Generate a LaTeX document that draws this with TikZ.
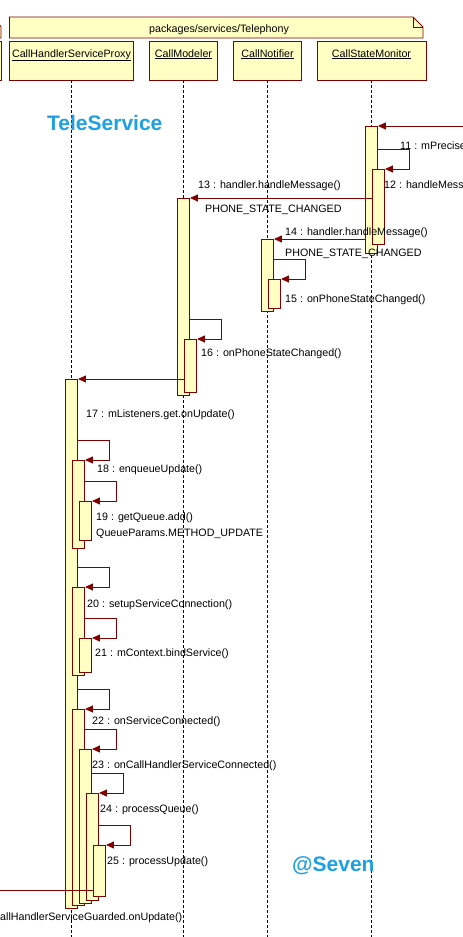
\documentclass[tikz,border=0pt]{standalone}
\usepackage{fontspec}
\setmainfont{Liberation Sans}
\usetikzlibrary{arrows.meta, positioning, calc}
\definecolor{umlline}{RGB}{128,0,0}
\definecolor{umlfill}{RGB}{255,255,196}
\definecolor{tagblue}{RGB}{30,160,225}

\begin{document}
\begin{tikzpicture}[x=1pt, y=-1pt,
        head/.style={draw=umlline, fill=umlfill, line width=0.9pt, rectangle, minimum height=39pt, inner sep=0pt},
        act/.style={draw=umlline, fill=umlfill, line width=0.9pt, rectangle, minimum width=12pt, inner sep=0pt, anchor=north},
        life/.style={dash pattern=on 3pt off 2pt, line width=0.8pt},
        msg/.style={draw=umlline, line width=0.9pt, -{Triangle[length=8pt, width=7pt]}},
        lbl/.style={anchor=west, inner sep=0pt, yshift=-1.5pt, font=\fontsize{10.7}{12}\selectfont},
        hlbl/.style={lbl, anchor=north, yshift=-7pt},
        tag/.style={anchor=west, inner sep=0pt, text=tagblue, font=\fontsize{21}{24}\selectfont\bfseries}
    ]
        \useasboundingbox (0,0) rectangle (463,937);
        \clip (0,0) rectangle (463,937);

        % Package frames
        \draw[draw=umlline, fill=umlfill, line width=0.9pt] (-60,17) -- (-8.5,17) -- (1,26.5) -- (1,38) -- (-60,38) -- cycle;
        \draw[draw=umlline, fill=umlfill, line width=0.9pt] (9.5,17) -- (413,17) -- (423,27) -- (423,38) -- (9.5,38) -- cycle;
        \draw[draw=umlline, line width=0.9pt] (413,17) -- (413,27) -- (423,27);
        \node[lbl, anchor=center] (pkg) at (219,28) {packages/services/Telephony};

        % Lifeline heads
        \draw[draw=umlline, fill=umlfill, line width=0.9pt] (-60,41) rectangle (1.5,80);
        \node[head, minimum width=124.5pt, label={[hlbl]north:\underline{CallHandlerServiceProxy}}] (hCHSP) at (71.5,60.5) {};
        \node[head, minimum width=68pt, label={[hlbl]north:\underline{CallModeler}}] (hCM) at (183.5,60.5) {};
        \node[head, minimum width=68pt, label={[hlbl]north:\underline{CallNotifier}}] (hCN) at (267.5,60.5) {};
        \node[head, minimum width=109pt, label={[hlbl]north:\underline{CallStateMonitor}}] (hCSM) at (371.5,60.5) {};

        \coordinate (bottom) at (0,937);
        \draw[life] (hCHSP.south) -- (hCHSP.south |- bottom);
        \draw[life] (hCM.south) -- (hCM.south |- bottom);
        \draw[life] (hCN.south) -- (hCN.south |- bottom);
        \draw[life] (hCSM.south) -- (hCSM.south |- bottom);

        \node[tag] (tele) at (47,123) {TeleService};
        \node[tag] (seven) at (292,866) {@Seven};

        % Activations
        \node[act, minimum height=127pt] (csmA) at (371.5,126) {};
        \node[act, minimum height=75pt] (csmB) at (378.5,169) {};
        \node[act, minimum height=197pt] (cmA) at (183.5,198) {};
        \node[act, minimum height=53pt] (cmB) at (190.5,339) {};
        \node[act, minimum height=72pt] (cnA) at (267.5,239) {};
        \node[act, minimum height=29pt] (cnB) at (274.5,279) {};
        \node[act, minimum height=529pt] (chA) at (71.5,379) {};
        \node[act, minimum height=88pt] (chB) at (78.5,460) {};
        \node[act, minimum height=39pt] (chC) at (85.5,501) {};
        \node[act, minimum height=88pt] (chD) at (78.5,587) {};
        \node[act, minimum height=34pt] (chE) at (85.5,638) {};
        \node[act, minimum height=196pt] (chF) at (78.5,709) {};
        \node[act, minimum height=154pt] (chG) at (85.5,749) {};
        \node[act, minimum height=107pt] (chH) at (92.5,793) {};
        \node[act, minimum height=51pt] (chI) at (99.5,845) {};

        % Messages
        \coordinate (inR) at (463,126);
        \coordinate (inL) at (0,890);
        \draw[msg] (inR) -- (csmA.north east);
        \draw[msg] ([yshift=20pt]csmB.north -| csmA.east) -- ++(31,0) |- (csmB.north east);
        \draw[msg] (cmA.north east -| csmB.west) -- (cmA.north east);
        \draw[msg] (cnA.north east -| csmA.west) -- (cnA.north east);
        \draw[msg] ([yshift=20pt]cnB.north -| cnA.east) -- ++(31,0) |- (cnB.north east);
        \draw[msg] ([yshift=20pt]cmB.north -| cmA.east) -- ++(31,0) |- (cmB.north east);
        \draw[msg] (chA.north east -| cmB.west) -- (chA.north east);
        \draw[msg] ([yshift=20pt]chB.north -| chA.east) -- ++(31,0) |- (chB.north east);
        \draw[msg] ([yshift=20pt]chC.north -| chB.east) -- ++(31,0) |- (chC.north east);
        \draw[msg] ([yshift=20pt]chD.north -| chA.east) -- ++(31,0) |- (chD.north east);
        \draw[msg] ([yshift=20pt]chE.north -| chD.east) -- ++(31,0) |- (chE.north east);
        \draw[msg] ([yshift=20pt]chF.north -| chA.east) -- ++(31,0) |- (chF.north east);
        \draw[msg] ([yshift=20pt]chG.north -| chF.east) -- ++(31,0) |- (chG.north east);
        \draw[msg] ([yshift=20pt]chH.north -| chG.east) -- ++(31,0) |- (chH.north east);
        \draw[msg] ([yshift=20pt]chI.north -| chH.east) -- ++(31,0) |- (chI.north east);
        \draw[draw=umlline, line width=0.9pt] (inL) -- (inL -| chI.west);

        % Message labels
        \node[lbl] (m11) at (400,144) {11 : mPrecise};
        \node[lbl] (m12) at (384,183) {12 : handleMessa};
        \node[lbl] (m13) at (198,184) {13 : handler.handleMessage()};
        \node[lbl] (p13) at (205,208) {PHONE\_STATE\_CHANGED};
        \node[lbl] (m14) at (285,231) {14 : handler.handleMessage()};
        \node[lbl] (p14) at (285,252) {PHONE\_STATE\_CHANGED};
        \node[lbl] (m15) at (285,298) {15 : onPhoneStateChanged()};
        \node[lbl] (m16) at (201,352) {16 : onPhoneStateChanged()};
        \node[lbl] (m17) at (86,413) {17 : mListeners.get.onUpdate()};
        \node[lbl] (m18) at (97,468) {18 : enqueueUpdate()};
        \node[lbl] (m19) at (96,516) {19 : getQueue.add()};
        \node[lbl] (p19) at (96,532) {QueueParams.METHOD\_UPDATE};
        \node[lbl] (m20) at (87,603) {20 : setupServiceConnection()};
        \node[lbl] (m21) at (95,652) {21 : mContext.bindService()};
        \node[lbl] (m22) at (92,720) {22 : onServiceConnected()};
        \node[lbl] (m23) at (92,764) {23 : onCallHandlerServiceConnected()};
        \node[lbl] (m24) at (100,808) {24 : processQueue()};
        \node[lbl] (m25) at (107,860) {25 : processUpdate()};
        \node[lbl] (mIn) at (0,916) {allHandlerServiceGuarded.onUpdate()};
    \end{tikzpicture}
\end{document}
